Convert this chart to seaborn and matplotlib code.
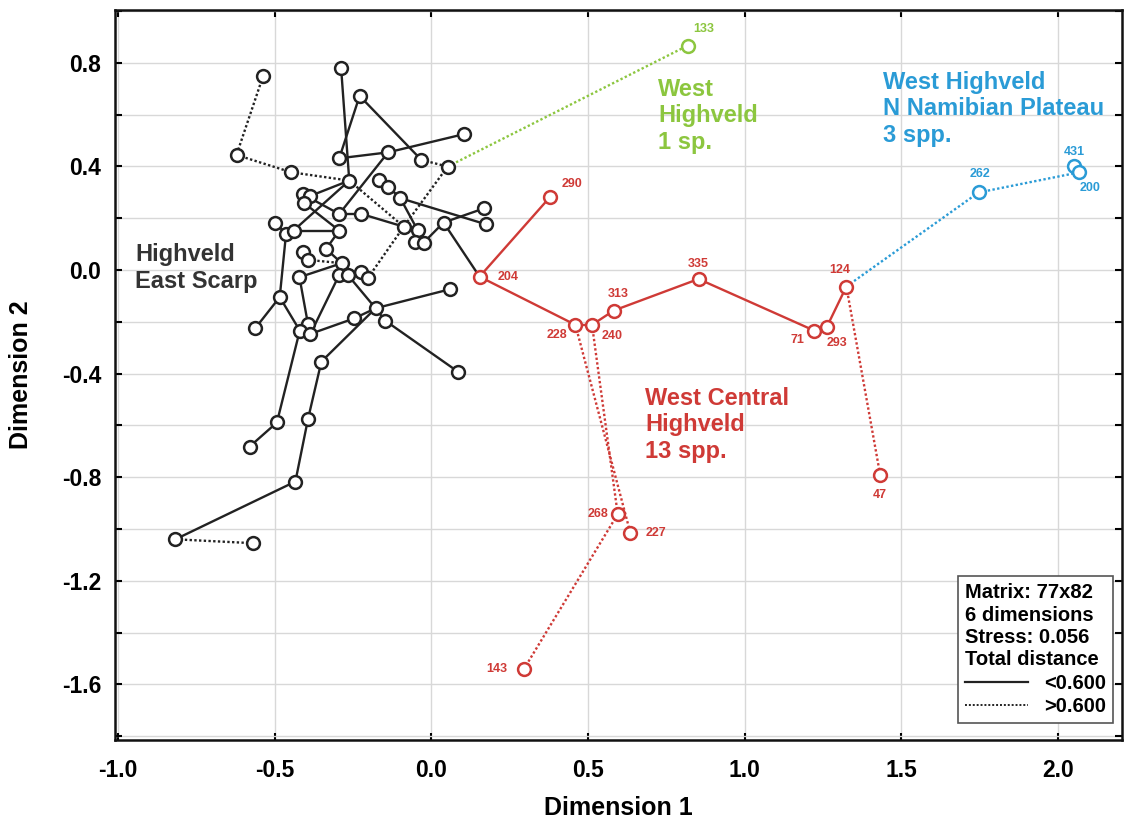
import matplotlib
matplotlib.use("Agg")
import matplotlib.pyplot as plt
import pandas as pd
import seaborn as sns
from matplotlib.lines import Line2D
from matplotlib.ticker import FormatStrFormatter, MultipleLocator

# MDS coordinates
BLACK_X = [-0.537, -0.288, -0.229, 0.103, -0.622, -0.294, -0.138, -0.032, 0.052, -0.447,
           -0.262, -0.168, -0.138, -0.411, -0.386, -0.408, -0.099, 0.169, 0.175, -0.498,
           -0.464, -0.440, -0.294, -0.223, -0.294, -0.088, -0.044, 0.039, -0.053, -0.025,
           -0.336, -0.410, -0.394, -0.286, -0.294, -0.267, -0.223, -0.203, -0.421, 0.058,
           -0.484, -0.178, -0.246, -0.147, -0.562, -0.394, -0.420, -0.386, -0.351, 0.085,
           -0.493, -0.394, -0.580, -0.434, -0.817, -0.569]
BLACK_Y = [0.749, 0.779, 0.672, 0.524, 0.444, 0.431, 0.454, 0.425, 0.399, 0.377,
           0.345, 0.347, 0.322, 0.293, 0.286, 0.260, 0.277, 0.238, 0.176, 0.183,
           0.138, 0.152, 0.216, 0.216, 0.152, 0.167, 0.154, 0.183, 0.109, 0.105,
           0.081, 0.068, 0.039, 0.026, -0.019, -0.019, -0.009, -0.032, -0.028, -0.075,
           -0.105, -0.148, -0.187, -0.196, -0.225, -0.208, -0.234, -0.247, -0.354, -0.393,
           -0.589, -0.577, -0.682, -0.817, -1.040, -1.055]

RED_IDS = ["290", "204", "228", "240", "313", "335", "71", "293", "124", "47", "268", "227", "143"]
RED_X = [0.380, 0.154, 0.460, 0.513, 0.582, 0.853, 1.222, 1.263, 1.325, 1.433, 0.595, 0.635, 0.295]
RED_Y = [0.283, -0.026, -0.212, -0.212, -0.157, -0.035, -0.234, -0.219, -0.064, -0.792, -0.943, -1.014, -1.542]

BLUE_IDS = ["262", "431", "200"]
BLUE_X = [1.747, 2.052, 2.069]
BLUE_Y = [0.299, 0.402, 0.377]

GREEN_IDS = ["133"]
GREEN_X = [0.818]
GREEN_Y = [0.866]

# minimum spanning tree edges (solid < 0.600, dotted > 0.600)
BLACK_SOLID = [(1, 10), (2, 5), (2, 7), (5, 6), (6, 3), (6, 22), (10, 14), (10, 21), (13, 22),
               (15, 24), (21, 24), (19, 20), (20, 21), (20, 40), (40, 44), (40, 46), (38, 45),
               (47, 34), (47, 42), (42, 41), (35, 41), (41, 39), (41, 43), (43, 49), (41, 48),
               (48, 51), (51, 53), (46, 50), (50, 52), (53, 54), (24, 30), (30, 33), (38, 33),
               (31, 32), (34, 35), (35, 36), (36, 37), (11, 12), (12, 16), (16, 18), (16, 26),
               (23, 25), (22, 23), (25, 26), (26, 28), (28, 29), (27, 17), (27, 29)]
BLACK_DOTTED = [(54, 55), (32, 33), (37, 25), (8, 25), (10, 25), (7, 8), (4, 9), (9, 10), (0, 4)]
RED_SOLID = [("290", "204"), ("204", "228"), ("228", "240"), ("240", "313"), ("313", "335"),
             ("335", "71"), ("71", "293"), ("293", "124")]
RED_DOTTED = [("124", "47"), ("228", "227"), ("240", "268"), ("268", "143")]
BLUE_SOLID = [("200", "431")]
BLUE_DOTTED = [("124", "262"), ("262", "200")]
GREEN_DOTTED = [("b8", "133")]
BRIDGE_SOLID = [("b27", "204")]

COLORS = {"black": "#222222", "red": "#cf3a36", "blue": "#2a9bd6", "green": "#8cc63f"}

LABEL_OFFSETS = {
    "290": (8, 9, "left"), "204": (13, 0, "left"), "228": (-6, -7, "right"),
    "240": (7, -8, "left"), "313": (3, 12, "center"), "335": (0, 11, "center"),
    "71": (-7, -7, "right"), "293": (7, -12, "center"), "124": (-5, 12, "center"),
    "47": (0, -14, "center"), "268": (-7, 0, "right"), "227": (11, 0, "left"),
    "143": (-12, 0, "right"), "262": (1, 13, "center"), "431": (0, 10, "center"),
    "200": (8, -11, "center"), "133": (12, 12, "center"),
}

plt.rcParams["font.family"] = ["Liberation Sans", "DejaVu Sans"]
plt.rcParams["font.weight"] = "bold"
plt.rcParams["axes.unicode_minus"] = False

nodes = {}
for i, (x, y) in enumerate(zip(BLACK_X, BLACK_Y)):
    nodes[f"b{i}"] = (x, y)
for ids, xs, ys in [(RED_IDS, RED_X, RED_Y), (BLUE_IDS, BLUE_X, BLUE_Y), (GREEN_IDS, GREEN_X, GREEN_Y)]:
    for k, x, y in zip(ids, xs, ys):
        nodes[k] = (x, y)

edge_sets = [
    ([(f"b{a}", f"b{b}") for a, b in BLACK_SOLID], "black", "solid"),
    ([(f"b{a}", f"b{b}") for a, b in BLACK_DOTTED], "black", "dotted"),
    (BRIDGE_SOLID, "black", "solid"),
    (RED_SOLID, "red", "solid"),
    (RED_DOTTED, "red", "dotted"),
    (BLUE_SOLID, "blue", "solid"),
    (BLUE_DOTTED, "blue", "dotted"),
    (GREEN_DOTTED, "green", "dotted"),
]
rows = []
eid = 0
for pairs, group, kind in edge_sets:
    for a, b in pairs:
        for n in (a, b):
            rows.append({"edge": eid, "x": nodes[n][0], "y": nodes[n][1], "group": group, "kind": kind})
        eid += 1
seg = pd.DataFrame(rows)

fig = plt.figure(figsize=(11.36, 8.25), dpi=100)
ax = fig.add_axes([0.1012, 0.103, 0.8865, 0.885])

sns.lineplot(data=seg, x="x", y="y", units="edge", estimator=None, sort=False,
             hue="group", style="kind", palette=COLORS,
             dashes={"solid": "", "dotted": (1.0, 1.0)}, linewidth=1.7,
             legend=False, ax=ax, zorder=2)

for group, ids, xs, ys in [("black", None, BLACK_X, BLACK_Y), ("red", RED_IDS, RED_X, RED_Y),
                           ("blue", BLUE_IDS, BLUE_X, BLUE_Y), ("green", GREEN_IDS, GREEN_X, GREEN_Y)]:
    sns.scatterplot(x=xs, y=ys, color="white", edgecolor=COLORS[group], s=85,
                    linewidth=1.8, ax=ax, zorder=3)
    if ids is None:
        continue
    for k, x, y in zip(ids, xs, ys):
        dx, dy, ha = LABEL_OFFSETS[k]
        ax.annotate(k, (x, y), xytext=(dx, dy), textcoords="offset points",
                    ha=ha, va="center", fontsize=9, fontweight="bold",
                    color=COLORS[group])

label_kw = dict(fontsize=17, fontweight="bold", ha="left", va="center", linespacing=1.2)
ax.text(-0.945, 0.008, "Highveld\nEast Scarp", color="#333333", **label_kw)
ax.text(0.725, 0.595, "West\nHighveld\n1 sp.", color=COLORS["green"], **label_kw)
ax.text(1.443, 0.622, "West Highveld\nN Namibian Plateau\n3 spp.", color=COLORS["blue"], **label_kw)
ax.text(0.683, -0.598, "West Central\nHighveld\n13 spp.", color=COLORS["red"], **label_kw)

ax.set_xlim(-1.01, 2.205)
ax.set_ylim(-1.815, 1.004)
ax.xaxis.set_major_locator(MultipleLocator(0.5))
ax.yaxis.set_major_locator(MultipleLocator(0.4))
ax.yaxis.set_minor_locator(MultipleLocator(0.2))
ax.xaxis.set_major_formatter(FormatStrFormatter("%.1f"))
ax.yaxis.set_major_formatter(FormatStrFormatter("%.1f"))
ax.grid(True, which="major", color="#d8d8d8", linewidth=1.0, zorder=0)
ax.grid(True, which="minor", axis="y", color="#d8d8d8", linewidth=1.0, zorder=0)
ax.set_axisbelow(True)
ax.tick_params(which="both", direction="in", length=5, width=1.5, top=True, right=True,
               labelsize=16.5, pad=10)
ax.tick_params(axis="x", pad=14)
for lab in ax.get_xticklabels() + ax.get_yticklabels():
    lab.set_fontweight("bold")
for sp in ax.spines.values():
    sp.set_linewidth(1.8)
    sp.set_color("#111111")

ax.set_xlabel("Dimension 1", fontsize=18, fontweight="bold")
ax.set_ylabel("Dimension 2", fontsize=18, fontweight="bold")
ax.xaxis.set_label_coords(0.5, -0.076)
ax.yaxis.set_label_coords(-0.081, 0.5)

handles = [Line2D([], [], color="#222222", linewidth=1.6),
           Line2D([], [], color="#222222", linewidth=1.4, linestyle=(0, (1, 1)))]
leg = ax.legend(handles, ["<0.600", ">0.600"],
                title="Matrix: 77x82\n6 dimensions\nStress: 0.056\nTotal distance",
                loc="lower right", bbox_to_anchor=(0.991, 0.023), borderaxespad=0,
                fancybox=False, framealpha=1, edgecolor="#555555",
                prop={"size": 14.5, "weight": "bold"},
                title_fontproperties={"size": 14.5, "weight": "bold"},
                alignment="left", handlelength=3.1, handletextpad=0.8,
                borderpad=0.35, labelspacing=0.22)
leg.get_title().set_linespacing(1.22)
leg.get_frame().set_linewidth(1.2)

fig.savefig("out.png", dpi=100)
